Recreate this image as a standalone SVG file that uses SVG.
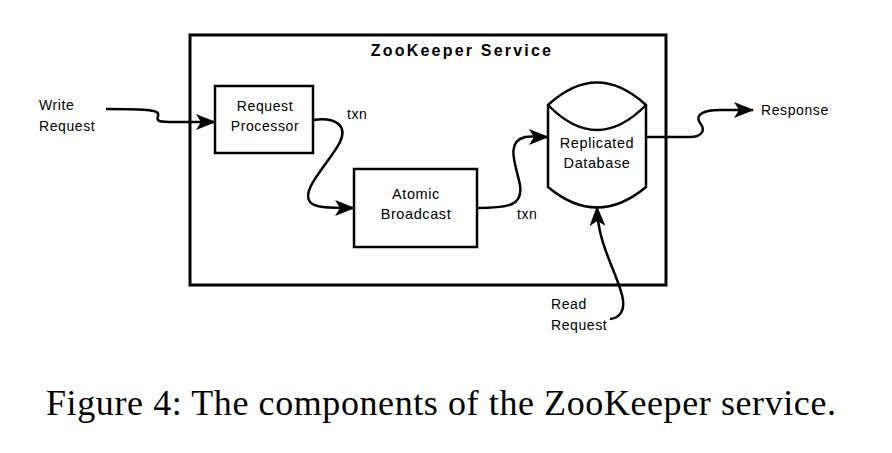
<svg xmlns="http://www.w3.org/2000/svg" width="892" height="453" viewBox="0 0 892 453">
<style>
.box{fill:#fff;stroke:#000;stroke-width:2.5}
.lbl{font-family:"Liberation Sans",Arial,sans-serif;font-size:14px;letter-spacing:0.6px;fill:#000}
.c{text-anchor:middle}
.edge{fill:none;stroke:#000;stroke-width:2.5}
</style>
<defs>
<marker id="ah" viewBox="0 0 20 16" refX="19" refY="8" markerWidth="20" markerHeight="16" markerUnits="userSpaceOnUse" orient="auto">
<path d="M0,0 L20,8 L0,16 L5,8 Z" fill="#000"/>
</marker>
</defs>
<rect width="892" height="453" fill="#fff"/>
<g id="service">
<rect x="190" y="35" width="476" height="250" fill="none" stroke="#000" stroke-width="3"/>
<text x="462" y="56" class="lbl c" style="font-weight:bold;font-size:16px;letter-spacing:2.2px">ZooKeeper Service</text>
</g>
<g id="request-processor">
<rect class="box" x="215" y="86" width="98" height="67"/>
<text x="265" y="111" class="lbl c">Request</text>
<text x="265" y="131" class="lbl c">Processor</text>
</g>
<g id="atomic-broadcast">
<rect class="box" x="354" y="169" width="123" height="78"/>
<text x="416" y="199" class="lbl c" style="font-size:14.5px">Atomic</text>
<text x="416" y="219" class="lbl c" style="font-size:14.5px">Broadcast</text>
</g>
<g id="replicated-database">
<path class="box" d="M548,105 Q597,60 646,105 L646,187 Q597,228 548,187 Z"/>
<path class="edge" d="M548,105 Q597,155 646,105"/>
<text x="597" y="148" class="lbl c" style="font-size:14.5px">Replicated</text>
<text x="597" y="168" class="lbl c" style="font-size:14.5px">Database</text>
</g>
<g id="labels">
<text x="39" y="110" class="lbl">Write</text>
<text x="39" y="131" class="lbl">Request</text>
<text x="761" y="115" class="lbl">Response</text>
<text x="551" y="309" class="lbl">Read</text>
<text x="551" y="330" class="lbl">Request</text>
<text x="347" y="119" class="lbl">txn</text>
<text x="517" y="219" class="lbl">txn</text>
</g>
<g id="connectors">
<path class="edge" marker-end="url(#ah)" d="M106,109 C150,109 160,110 158,116 C156,122 160,122 175,122 L215,122"/>
<path class="edge" marker-end="url(#ah)" d="M313,120 C335,117 348,125 340,142 C330,162 300,190 310,202 C315,208 330,208 354,208"/>
<path class="edge" marker-end="url(#ah)" d="M477,208 C510,208 523,205 520,185 C516,165 505,142 525,137 C530,136 540,137 548,137"/>
<path class="edge" marker-end="url(#ah)" d="M646,137 L690,137 C702,137 706,130 700,123 C694,114 705,110 720,110 L753,110"/>
<path class="edge" marker-end="url(#ah)" d="M610,319 C620,318 626,310 622,295 C615,268 598,245 597,207"/>
</g>
<text x="441" y="415" text-anchor="middle" textLength="790" lengthAdjust="spacing" style="font-family:'Liberation Serif','Times New Roman',serif;font-size:36px;fill:#000">Figure 4: The components of the ZooKeeper service.</text>
</svg>
